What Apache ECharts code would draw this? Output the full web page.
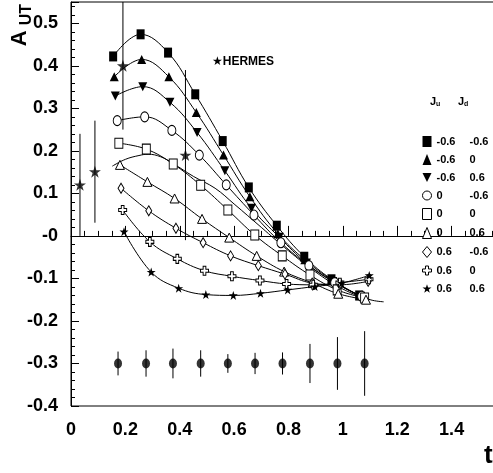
<!DOCTYPE html>
<html><head><meta charset="utf-8">
<script src="https://cdn.jsdelivr.net/npm/echarts@6/dist/echarts.min.js"></script>
<style>html,body{margin:0;padding:0;background:#fff}#c{width:493px;height:473px}</style>
</head><body><div id="c"></div>
<script>
// ---- data ----
const xTickLabels = ['0','0.2','0.4','0.6','0.8','1','1.2','1.4','1.6'];
const yTickLabels = ['-0.4','-0.3','-0.2','-0.1','-0','0.1','0.2','0.3','0.4','0.5'];

const juLabels = ['-0.6','-0.6','-0.6','0','0','0','0.6','0.6','0.6'];
const jdLabels = ['-0.6','0','0.6','-0.6','0','0.6','-0.6','0','0.6'];

const sqFilledX = [0.155,0.256,0.357,0.457,0.558,0.654,0.757,0.858,0.958,1.060];
const sqFilledY = [0.422,0.474,0.431,0.333,0.223,0.114,0.024,-0.049,-0.102,-0.140];
const triUpX = [0.159,0.260,0.360,0.461,0.561,0.658,0.761,0.860,0.962,1.062];
const triUpY = [0.374,0.415,0.374,0.290,0.190,0.092,0.005,-0.056,-0.105,-0.141];
const triDownX = [0.163,0.264,0.364,0.464,0.566,0.664,0.766,0.866,0.963,1.065];
const triDownY = [0.329,0.351,0.314,0.243,0.153,0.065,-0.003,-0.064,-0.107,-0.142];
const circleX = [0.170,0.271,0.371,0.472,0.571,0.673,0.772,0.875,0.970,1.069];
const circleY = [0.271,0.280,0.248,0.190,0.120,0.049,-0.016,-0.070,-0.110,-0.142];
const sqOpenX = [0.176,0.277,0.376,0.477,0.577,0.676,0.777,0.879,0.979,1.080];
const sqOpenY = [0.218,0.204,0.169,0.119,0.061,0.002,-0.047,-0.092,-0.127,-0.146];
const triOpenX = [0.180,0.281,0.381,0.482,0.582,0.683,0.784,0.888,0.983,1.085];
const triOpenY = [0.167,0.127,0.088,0.040,-0.004,-0.047,-0.084,-0.111,-0.136,-0.150];
const diamondX = [0.184,0.286,0.386,0.486,0.587,0.689,0.787,0.887,0.989,1.093];
const diamondY = [0.112,0.059,0.018,-0.016,-0.047,-0.070,-0.090,-0.111,-0.115,-0.107];
const crossX = [0.190,0.290,0.391,0.491,0.592,0.695,0.793,0.891,0.989,1.096];
const crossY = [0.061,-0.014,-0.054,-0.082,-0.095,-0.105,-0.113,-0.115,-0.110,-0.102];
const starX = [0.195,0.295,0.396,0.496,0.597,0.697,0.797,0.897,0.995,1.097];
const starY = [0.010,-0.085,-0.123,-0.138,-0.140,-0.135,-0.127,-0.119,-0.111,-0.093];

const humpX = [0.152,0.200,0.250,0.284,0.330,0.376,0.450,0.530,0.600,0.700,0.800,0.900,1.000,1.100,1.150];
const humpY = [0.164,0.180,0.189,0.192,0.186,0.170,0.140,0.112,0.075,0.020,-0.035,-0.085,-0.125,-0.150,-0.155];

const hermesX = [0.033,0.088,0.191,0.421];
const hermesY = [0.120,0.151,0.400,0.190];
const hermesErr = [0.120,0.120,0.150,0.200];

const projX = [0.173,0.276,0.375,0.477,0.577,0.677,0.778,0.879,0.980,1.080];
const projY = [-0.3,-0.3,-0.3,-0.3,-0.3,-0.3,-0.3,-0.3,-0.3,-0.3];
const projErr = [0.028,0.031,0.035,0.031,0.022,0.025,0.026,0.046,0.062,0.076];

// ---- styling ----
const FONT = '"Liberation Sans", Arial, Helvetica, sans-serif';
const STAR = 'path://M50,0 L61.8,35.1 L98.9,35.1 L68.9,57 L80.3,92.2 L50,70.5 L19.7,92.2 L31.1,57 L1.1,35.1 L38.2,35.1 Z';
const CROSS = 'path://M33,0 L67,0 L67,33 L100,33 L100,67 L67,67 L67,100 L33,100 L33,67 L0,67 L0,33 L33,33 Z';
const TRIDOWN = 'path://M0,0 L100,0 L50,100 Z';
const filled = {color:'#000', borderColor:'#000', borderWidth:0};
const open = {color:'#fff', borderColor:'#000', borderWidth:1};

const defs = [
  {name:'s1', x:sqFilledX, y:sqFilledY, symbol:'rect', size:[8,10], st:filled},
  {name:'s2', x:triUpX, y:triUpY, symbol:'triangle', size:[9,9], st:filled},
  {name:'s3', x:triDownX, y:triDownY, symbol:TRIDOWN, size:[9,9], st:filled},
  {name:'s4', x:circleX, y:circleY, symbol:'circle', size:[8,10], st:open},
  {name:'s5', x:sqOpenX, y:sqOpenY, symbol:'rect', size:[8,10], st:open},
  {name:'s6', x:triOpenX, y:triOpenY, symbol:'triangle', size:[9,9], st:open},
  {name:'s7', x:diamondX, y:diamondY, symbol:'diamond', size:[6,10], st:open},
  {name:'s8', x:crossX, y:crossY, symbol:CROSS, size:[8,9], st:open},
  {name:'s9', x:starX, y:starY, symbol:STAR, size:[9,9], st:filled}
];

function zip(a,b){ return a.map((v,i)=>[v,b[i]]); }
function zip3(a,b,c){ return a.map((v,i)=>[v,b[i],c[i]]); }

function errRender(params, api){
  const x = api.value(0), y = api.value(1), e = api.value(2);
  const p1 = api.coord([x, y + e]), p2 = api.coord([x, y - e]);
  return {type:'line', shape:{x1:p1[0], y1:p1[1], x2:p2[0], y2:p2[1]},
          style:{stroke:'#000', lineWidth:1}};
}

const series = [];
series.push({type:'line', name:'fit', data:zip(humpX,humpY), smooth:0.4, showSymbol:false,
  lineStyle:{color:'#000', width:1}, silent:true, z:2});
defs.forEach(d=>{
  series.push({type:'line', name:d.name, data:zip(d.x,d.y), smooth:0.4,
    symbol:d.symbol, symbolSize:d.size, showAllSymbol:true,
    itemStyle:d.st, lineStyle:{color:'#000', width:1}, z:3});
});
series.push({type:'custom', name:'hermesErr', renderItem:errRender, data:zip3(hermesX,hermesY,hermesErr),
  encode:{x:0,y:1}, clip:true, z:4});
series.push({type:'scatter', name:'hermes', data:zip(hermesX,hermesY), symbol:STAR, symbolSize:[12,12],
  itemStyle:{color:'#000'}, z:5});
series.push({type:'custom', name:'projErr', renderItem:errRender, data:zip3(projX,projY,projErr),
  encode:{x:0,y:1}, clip:true, z:4});
series.push({type:'scatter', name:'proj', data:zip(projX,projY), symbol:'circle', symbolSize:[8,10],
  itemStyle:{color:'#000'}, z:5});

const labelFont = {fontFamily:FONT, fontWeight:'bold', fontSize:18, color:'#000'};

const option = {
  animation:false,
  backgroundColor:'#fff',
  grid:{left:71, top:2, width:435, height:404, show:true, borderColor:'#000', borderWidth:1,
        containLabel:false, outerBoundsMode:'none'},
  xAxis:{type:'value', min:0, max:1.6, interval:0.2,
    axisLine:{lineStyle:{color:'#000', width:1}},
    axisTick:{inside:true, length:10, lineStyle:{color:'#000'}},
    minorTick:{show:true, splitNumber:4, length:5, lineStyle:{color:'#000'}},
    splitLine:{show:false},
    axisLabel:Object.assign({margin:15, formatter:v=>xTickLabels[Math.round(v/0.2)] || ''}, labelFont)},
  yAxis:[{type:'value', min:-0.4, max:0.55, interval:0.1,
    axisLine:{lineStyle:{color:'#000', width:1}},
    axisTick:{inside:true, length:8, lineStyle:{color:'#000'}},
    minorTick:{show:true, splitNumber:5, length:4, lineStyle:{color:'#000'}},
    splitLine:{show:false},
    axisLabel:Object.assign({margin:13, showMaxLabel:false,
      formatter:v=>{ if (v > 0.52) return ''; return yTickLabels[Math.round((v+0.4)/0.1)] || ''; }}, labelFont)},
   {type:'value', min:-0.4, max:0.55, position:'left', offset:36,
    axisLine:{show:false}, axisTick:{show:false}, axisLabel:{show:false}, splitLine:{show:false},
    name:'{a|A}{b|UT}', nameLocation:'end', nameGap:-2, nameRotate:90,
    nameTextStyle:{align:'right', verticalAlign:'bottom',
      rich:{a:{fontFamily:FONT, fontWeight:'bold', fontSize:22, color:'#000', verticalAlign:'bottom', padding:[0,0,4,0]},
            b:{fontFamily:FONT, fontWeight:'bold', fontSize:16, color:'#000', verticalAlign:'bottom', padding:[0,0,0,5]}}}}],
  legend:{
    orient:'vertical', left:422, top:136, padding:0, itemWidth:9, itemHeight:11, itemGap:7,
    selectedMode:false,
    textStyle:{fontFamily:FONT, fontWeight:'bold', fontSize:11, color:'#000', lineHeight:11,
      rich:{a:{width:33, fontFamily:FONT, fontWeight:'bold', fontSize:11, lineHeight:11, color:'#000'},
            b:{fontFamily:FONT, fontWeight:'bold', fontSize:11, lineHeight:11, color:'#000'}}},
    formatter:name=>{ const i = defs.findIndex(d=>d.name===name); return '{a|'+juLabels[i]+'}{b|'+jdLabels[i]+'}'; },
    data:defs.map(d=>({name:d.name, icon:d.symbol, itemStyle:d.st}))
  },
  graphic:[
    {type:'text', x:484, y:456,
      style:{text:'t', font:'bold 26px '+FONT, fill:'#000', align:'left', verticalAlign:'middle', textAlign:'left', textVerticalAlign:'middle'}},
    {type:'text', x:212, y:62,
      style:{text:'★HERMES', font:'bold 12px '+FONT+', "DejaVu Sans"', fill:'#000', align:'left', verticalAlign:'middle', textAlign:'left', textVerticalAlign:'middle'}},
    {type:'text', x:430, y:102,
      style:{text:'{j|J}{s|u}', fill:'#000', align:'left', verticalAlign:'middle', textAlign:'left', textVerticalAlign:'middle',
        rich:{j:{font:'bold 11px '+FONT, fill:'#000'}, s:{font:'bold 7px '+FONT, fill:'#000', padding:[5,0,0,0]}}}},
    {type:'text', x:458, y:102,
      style:{text:'{j|J}{s|d}', fill:'#000', align:'left', verticalAlign:'middle', textAlign:'left', textVerticalAlign:'middle',
        rich:{j:{font:'bold 11px '+FONT, fill:'#000'}, s:{font:'bold 7px '+FONT, fill:'#000', padding:[5,0,0,0]}}}}
  ],
  series:series
};
const chart = echarts.init(document.getElementById('c'), null, {renderer:'canvas'});
chart.setOption(option);
</script></body></html>
